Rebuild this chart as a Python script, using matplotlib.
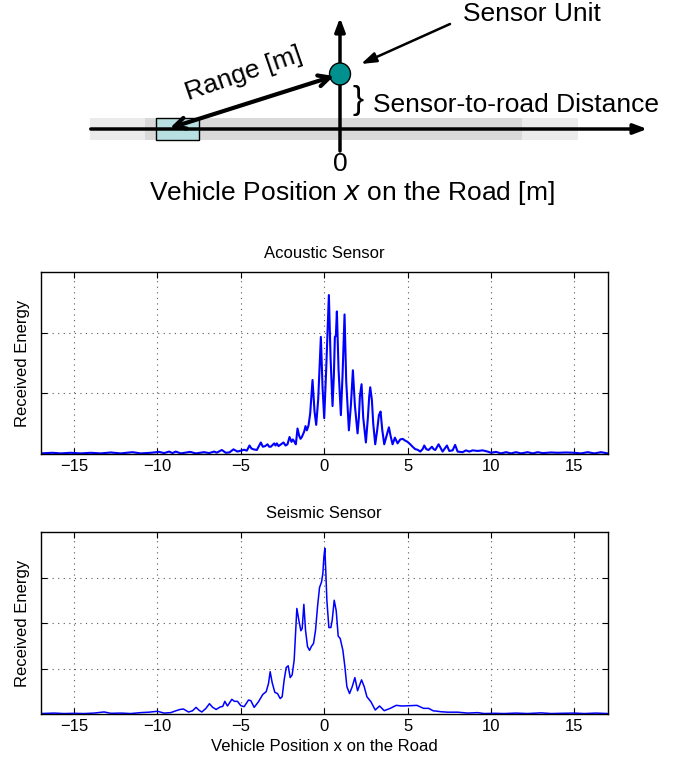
import matplotlib
matplotlib.use("Agg")
import matplotlib.pyplot as plt
from matplotlib.patches import Rectangle, Ellipse

plt.rcParams['font.family'] = ['Liberation Sans', 'DejaVu Sans']

# Acoustic sensor: received energy vs vehicle position
acoustic_x = [-17.0, -16.3, -15.8, -15.2, -14.6, -14.0, -13.4, -12.8, -12.2, -11.5,
              -11.0, -10.4, -9.9, -9.6, -9.3, -9.1, -8.9, -8.6, -8.04, -7.7,
              -7.2, -6.9, -6.6, -6.44, -6.14, -5.9, -5.68, -5.44, -5.2, -5.0,
              -4.8, -4.64, -4.48, -4.36, -4.24, -4.04, -3.8, -3.68, -3.54, -3.4,
              -3.3, -3.2, -3.0, -2.92, -2.84, -2.74, -2.64, -2.44, -2.32, -2.2,
              -2.08, -1.96, -1.88, -1.78, -1.7, -1.6, -1.5, -1.42, -1.34, -1.2,
              -1.12, -1.04, -0.94, -0.84, -0.7, -0.58, -0.48, -0.36, -0.2, -0.1,
              0.0, 0.12, 0.28, 0.38, 0.5, 0.58, 0.64, 0.7, 0.76, 0.86,
              1.0, 1.1, 1.22, 1.32, 1.48, 1.6, 1.72, 1.84, 2.0, 2.08,
              2.14, 2.24, 2.34, 2.5, 2.62, 2.7, 2.76, 2.86, 2.94, 3.06,
              3.18, 3.28, 3.38, 3.48, 3.6, 3.74, 3.88, 3.98, 4.1, 4.24,
              4.4, 4.56, 4.7, 4.86, 5.0, 5.16, 5.3, 5.46, 5.6, 5.76,
              5.9, 6.0, 6.12, 6.26, 6.46, 6.56, 6.66, 6.86, 7.0, 7.1,
              7.36, 7.5, 7.7, 7.85, 8.0, 8.3, 8.5, 8.7, 8.9, 9.2,
              9.5, 9.8, 10.0, 10.3, 10.6, 10.9, 11.2, 11.5, 11.8, 12.2,
              12.5, 12.8, 13.1, 13.6, 14.0, 14.5, 15.0, 15.4, 15.8, 16.2,
              16.6, 17.0]
acoustic_y = [0.01, 0.02, 0.01, 0.02, 0.01, 0.02, 0.01, 0.025, 0.01, 0.03,
              0.01, 0.02, 0.035, 0.015, 0.04, 0.015, 0.04, 0.01, 0.035, 0.01,
              0.03, 0.015, 0.04, 0.022, 0.066, 0.02, 0.027, 0.077, 0.04, 0.055,
              0.07, 0.055, 0.14, 0.09, 0.077, 0.066, 0.19, 0.12, 0.13, 0.16,
              0.12, 0.12, 0.175, 0.14, 0.175, 0.13, 0.15, 0.19, 0.14, 0.16,
              0.28, 0.2, 0.24, 0.2, 0.16, 0.42, 0.3, 0.25, 0.28, 0.37,
              0.46, 0.39, 0.47, 0.67, 1.22, 0.7, 0.48, 0.9, 1.93, 1.1,
              0.59, 1.4, 2.62, 1.6, 0.79, 1.3, 1.93, 1.95, 2.35, 1.4,
              0.64, 1.3, 2.30, 1.2, 0.39, 0.8, 1.38, 0.8, 0.34, 0.6,
              0.95, 1.15, 0.6, 0.19, 0.6, 0.95, 1.10, 0.89, 0.5, 0.16,
              0.4, 0.64, 0.70, 0.4, 0.16, 0.3, 0.44, 0.3, 0.16, 0.27,
              0.175, 0.24, 0.25, 0.22, 0.2, 0.16, 0.12, 0.08, 0.07, 0.04,
              0.08, 0.14, 0.08, 0.066, 0.12, 0.08, 0.066, 0.16, 0.09, 0.04,
              0.14, 0.05, 0.06, 0.15, 0.04, 0.03, 0.06, 0.04, 0.06, 0.05,
              0.06, 0.04, 0.02, 0.035, 0.01, 0.03, 0.01, 0.03, 0.01, 0.03,
              0.01, 0.03, 0.015, 0.025, 0.02, 0.025, 0.02, 0.01, 0.03, 0.01,
              0.03, 0.01]

# Seismic sensor
seismic_x = [-17.0, -16.2, -15.6, -15.0, -14.4, -13.8, -13.2, -12.8, -12.2, -11.6,
             -11.0, -10.5, -10.0, -9.6, -9.2, -8.9, -8.64, -8.44, -8.14, -7.9,
             -7.68, -7.5, -7.34, -7.1, -6.88, -6.7, -6.48, -6.24, -6.08, -5.96,
             -5.8, -5.54, -5.38, -5.2, -5.0, -4.8, -4.54, -4.4, -4.2, -3.94,
             -3.68, -3.48, -3.34, -3.24, -3.12, -2.96, -2.8, -2.64, -2.52, -2.4,
             -2.28, -2.16, -2.04, -1.92, -1.8, -1.64, -1.52, -1.4, -1.32, -1.22,
             -1.12, -1.0, -0.88, -0.76, -0.64, -0.52, -0.4, -0.28, -0.16, -0.08,
             -0.02, 0.04, 0.1, 0.16, 0.28, 0.4, 0.48, 0.6, 0.72, 0.84,
             0.96, 1.12, 1.24, 1.36, 1.52, 1.68, 1.84, 2.0, 2.24, 2.4,
             2.56, 2.8, 3.06, 3.32, 3.6, 3.96, 4.32, 4.66, 5.16, 5.56,
             5.96, 6.26, 6.54, 6.8, 7.0, 7.4, 8.0, 8.6, 9.2, 9.6,
             10.2, 10.8, 11.5, 12.2, 13.0, 13.6, 14.2, 15.0, 15.6, 16.3,
             17.0]
seismic_y = [0.01, 0.02, 0.01, 0.015, 0.01, 0.02, 0.045, 0.015, 0.02, 0.01,
             0.03, 0.04, 0.06, 0.02, 0.03, 0.07, 0.10, 0.11, 0.044, 0.07,
             0.146, 0.08, 0.044, 0.12, 0.227, 0.15, 0.10, 0.154, 0.168, 0.278,
             0.176, 0.322, 0.278, 0.278, 0.183, 0.161, 0.307, 0.293, 0.146, 0.27,
             0.43, 0.49, 0.67, 0.93, 0.69, 0.475, 0.45, 0.34, 0.38, 0.75,
             1.02, 1.06, 0.80, 0.86, 1.19, 2.32, 2.06, 1.83, 1.88, 2.41,
             1.84, 1.48, 1.40, 1.49, 1.55, 1.84, 2.36, 2.78, 2.90, 3.09,
             3.45, 3.64, 3.09, 2.50, 1.90, 1.90, 2.06, 2.50, 2.27, 1.71,
             1.66, 1.40, 1.04, 0.60, 0.45, 0.60, 0.80, 0.51, 0.75, 0.60,
             0.38, 0.27, 0.088, 0.176, 0.073, 0.124, 0.19, 0.176, 0.183, 0.19,
             0.124, 0.124, 0.07, 0.06, 0.05, 0.04, 0.04, 0.02, 0.03, 0.01,
             0.015, 0.01, 0.02, 0.01, 0.025, 0.01, 0.015, 0.02, 0.01, 0.02,
             0.01]

xticks = [-15, -10, -5, 0, 5, 10, 15]

fig = plt.figure(figsize=(6.87, 7.62), dpi=100)

# --- top diagram, drawn in pixel units of the top strip ---
dg = fig.add_axes([0, 1 - 215 / 762, 1, 215 / 762])
dg.set_xlim(0, 687)
dg.set_ylim(215, 0)
dg.axis('off')

dg.add_patch(Rectangle((90, 118), 488, 22, facecolor='#ebebeb', edgecolor='none'))
dg.add_patch(Rectangle((145, 118), 377, 22, facecolor='#d9d9d9', edgecolor='none'))
dg.add_patch(Rectangle((156, 118), 43, 22, facecolor='#b8e0e2', edgecolor='black', lw=1, zorder=3))

dg.annotate('', xy=(650, 129), xytext=(88, 129),
            arrowprops=dict(arrowstyle='-|>,head_length=0.8,head_width=0.3', lw=2.5, color='black'))
dg.annotate('', xy=(340, 15), xytext=(340, 151),
            arrowprops=dict(arrowstyle='-|>,head_length=0.8,head_width=0.3', lw=2.5, color='black',
                            shrinkA=0))

dg.add_patch(Ellipse((340, 74), 21, 22, facecolor='#00908e', edgecolor='black', lw=1, zorder=4))

dg.annotate('', xy=(334, 76), xytext=(170, 128),
            arrowprops=dict(arrowstyle='<->,head_length=0.8,head_width=0.4', lw=3, color='black',
                            shrinkA=0, shrinkB=0), zorder=5)
dg.annotate('', xy=(361, 64), xytext=(450, 24),
            arrowprops=dict(arrowstyle='-|>,head_length=0.9,head_width=0.3', lw=1.8, color='black',
                            shrinkA=0, shrinkB=0))

dg.text(532, 14, 'Sensor Unit', fontsize=19, ha='center', va='center')
dg.text(244, 74, 'Range [m]', fontsize=19, ha='center', va='center', rotation=19)
dg.text(358, 101, '}', fontsize=24, ha='center', va='center')
dg.text(373, 105, 'Sensor-to-road Distance', fontsize=19, ha='left', va='center')
dg.text(340, 164, '0', fontsize=19, ha='center', va='center')
dg.text(352, 193, 'Vehicle Position $\\it{x}$ on the Road [m]', fontsize=19, ha='center', va='center')

# --- energy plots ---
def style(ax, ymax, yticks):
    ax.set_xlim(-17, 17)
    ax.set_ylim(0, ymax)
    ax.set_xticks(xticks)
    ax.set_yticks(yticks)
    ax.set_yticklabels([])
    ax.tick_params(direction='in', top=True, right=True, length=4, labelsize=12)
    ax.grid(True, linestyle=(0, (1, 4)), color='0.35', linewidth=0.8)
    ax.set_ylabel('Received Energy', fontsize=12)
    for s in ax.spines.values():
        s.set_linewidth(1)

ax1 = fig.add_axes([40.7 / 687, 1 - 454 / 762, 567 / 687, 182 / 762])
ax1.plot(acoustic_x, acoustic_y, color='#0000ff', lw=1.5)
style(ax1, 3, [1, 2])
ax1.set_title('Acoustic Sensor', fontsize=12, pad=10)

ax2 = fig.add_axes([40.7 / 687, 1 - 714 / 762, 567 / 687, 182 / 762])
ax2.plot(seismic_x, seismic_y, color='#0000ff', lw=1.1)
style(ax2, 4, [1, 2, 3])
ax2.set_title('Seismic Sensor', fontsize=12, pad=10)
ax2.set_xlabel('Vehicle Position x on the Road', fontsize=12, labelpad=4)

fig.savefig('out.png', dpi=100)
